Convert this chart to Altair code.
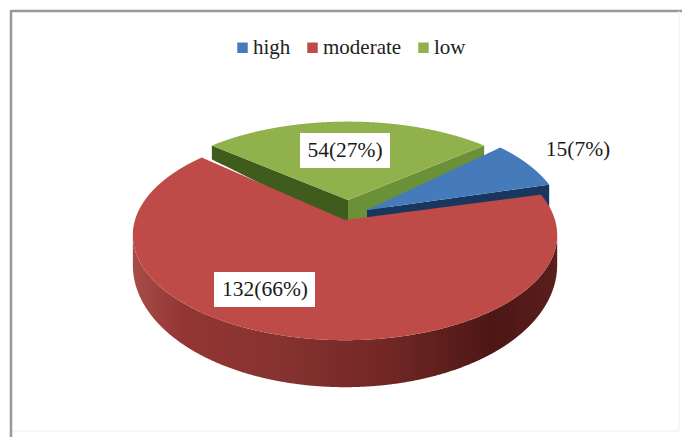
import numpy as np
import pandas as pd
import altair as alt

# Survey counts and the percentages printed beside them
names = ["high", "moderate", "low"]
counts = [15, 132, 54]
percents = [7, 66, 27]

face_colors = ["#457bbb", "#be4b48", "#90b14c"]

# Pie projection: radius on screen, perspective strength and wall depth
RX, RY, K = 210.0, 103.0, 0.143
DEPTH_MID, DEPTH_SLOPE = 27.0, 20.0
LOW_CENTRE = 0.0  # the low slice is centred on the back of the pie

# Per-slice apex and scale (exploded slices shift apart)
layout = {
    "high": dict(apex=(367, 210), fx=0.93, fy=1.0),
    "moderate": dict(apex=(345, 220), fx=1.0, fy=1.0),
    "low": dict(apex=(348, 200), fx=0.95, fy=0.87),
}

total = sum(counts)
sweep = {n: c / total * 2 * np.pi for n, c in zip(names, counts)}
start_low = LOW_CENTRE - sweep["low"] / 2
start_high = start_low + sweep["low"]
start_mod = start_high + sweep["high"]
angles = {
    "low": (start_low, start_low + sweep["low"]),
    "high": (start_high, start_high + sweep["high"]),
    "moderate": (start_mod, start_mod + sweep["moderate"]),
}


def project(name, theta):
    """Clockwise angle from the back of the pie to top-face screen units."""
    p = layout[name]
    u, v = np.sin(theta), -np.cos(theta)
    w = 1 - K * v
    return p["apex"][0] + p["fx"] * RX * u / w, p["apex"][1] + p["fy"] * RY * v / w, v


def depth(v):
    return DEPTH_MID + DEPTH_SLOPE * v


def scan(px, py, slice_name):
    """Turn a closed outline into x / y / y2 rows for an area mark."""
    px, py = np.asarray(px), np.asarray(py)
    xs = np.unique(np.concatenate([px, np.arange(np.floor(px.min()), np.ceil(px.max()) + 1)]))
    xs = xs[(xs >= px.min()) & (xs <= px.max())]
    rows = []
    qx, qy = np.roll(px, -1), np.roll(py, -1)
    for x in xs:
        hits = []
        for x0, y0, x1, y1 in zip(px, py, qx, qy):
            if min(x0, x1) <= x <= max(x0, x1):
                if x0 == x1:
                    hits += [y0, y1]
                else:
                    hits.append(y0 + (x - x0) / (x1 - x0) * (y1 - y0))
        if hits:
            rows.append(dict(x=x, y=min(hits), y2=max(hits), slice=slice_name))
    return pd.DataFrame(rows)


def sector(name):
    t = np.linspace(*angles[name], 400)
    x, y, _ = project(name, t)
    ax, ay = layout[name]["apex"]
    return scan(np.r_[ax, x], np.r_[ay, y], name)


def radial_wall(name, theta, extra=0.0):
    x, y, v = project(name, np.array(theta))
    ax, ay = layout[name]["apex"]
    return scan([ax, x, x, ax], [ay, y, y + depth(v) + extra, ay + DEPTH_MID], name)


def outer_wall(name):
    t = np.linspace(*angles[name], 1200)
    x, y, v = project(name, t)
    i, j = int(np.argmax(x)), int(np.argmin(x))
    x, y, v = x[i : j + 1], y[i : j + 1], v[i : j + 1]
    order = np.argsort(x)
    return pd.DataFrame(dict(x=x[order], y=y[order], y2=(y + depth(v))[order], slice=name))


X = alt.X("x:Q", axis=None, scale=alt.Scale(domain=[0, 682], nice=False, zero=False))
Y = alt.Y("y:Q", axis=None, scale=alt.Scale(domain=[437, 0], nice=False, zero=False))
Y2 = alt.Y2("y2:Q")

legend = alt.Legend(
    title=None, orient="none", legendX=232, legendY=37, direction="horizontal",
    symbolType="square", symbolSize=110, symbolStrokeWidth=0, symbolOpacity=1,
    labelFont="Liberation Serif", labelFontSize=21, labelColor="#222222",
    labelOffset=0, columnPadding=11, columns=3, padding=0,
)
color = alt.Color(
    "slice:N", scale=alt.Scale(domain=names, range=face_colors), legend=legend
)


def wall_layer(frame, fill):
    return alt.Chart(frame).mark_area(color=fill).encode(x=X, y=Y, y2=Y2)


def face_layer(name):
    return alt.Chart(sector(name)).mark_area().encode(x=X, y=Y, y2=Y2, color=color)


red_side = alt.LinearGradient(
    gradient="linear", x1=0, x2=1, y1=0, y2=0,
    stops=[
        alt.GradientStop(offset=0.0, color="#a84c49"),
        alt.GradientStop(offset=0.12, color="#933633"),
        alt.GradientStop(offset=0.35, color="#863230"),
        alt.GradientStop(offset=0.6, color="#722725"),
        alt.GradientStop(offset=0.85, color="#4c1715"),
        alt.GradientStop(offset=1.0, color="#5a1e1c"),
    ],
)

# Frame around the figure
frame_lines = pd.DataFrame(
    [
        dict(x=11, x2=11, y=10, y2=437, c="#999999", w=2.5),
        dict(x=11, x2=682, y=11, y2=11, c="#999999", w=2.5),
        dict(x=679, x2=679, y=11, y2=431, c="#eeeeee", w=1),
        dict(x=13, x2=679, y=431, y2=431, c="#eeeeee", w=1),
    ]
)
frame_layer = (
    alt.Chart(frame_lines)
    .mark_rule()
    .encode(
        x=X, x2="x2:Q", y=Y, y2=Y2,
        color=alt.Color("c:N", scale=None),
        strokeWidth=alt.StrokeWidth("w:Q", scale=None),
    )
)

# Value labels, two of them on white plates
label_text = [f"{c}({p}%)" for c, p in zip(counts, percents)]
labels = pd.DataFrame(dict(text=label_text, x=[578, 265, 345], y=[150, 290, 151]))
plates = pd.DataFrame(dict(x=[214, 300], x2=[315, 390], y=[272, 133], y2=[307, 168]))
plate_layer = (
    alt.Chart(plates).mark_rect(color="white").encode(x=X, x2="x2:Q", y=Y, y2=Y2)
)
text_layer = (
    alt.Chart(labels)
    .mark_text(font="Liberation Serif", fontSize=21.5, color="#1a1a1a", align="center", baseline="middle")
    .encode(x=X, y=Y, text="text:N")
)

low_a, low_b = angles["low"]
high_a, high_b = angles["high"]

chart = (
    alt.layer(
        frame_layer,
        wall_layer(radial_wall("low", low_a), "#3f5c1d"),
        wall_layer(radial_wall("low", low_b), "#6b9138"),
        face_layer("low"),
        wall_layer(radial_wall("high", high_b, extra=6), "#17375e"),
        face_layer("high"),
        wall_layer(outer_wall("moderate"), red_side),
        face_layer("moderate"),
        plate_layer,
        text_layer,
    )
    .properties(
        width=682, height=437, padding=0,
        autosize=alt.AutoSizeParams(type="none"),
        background="white",
    )
    .configure_view(stroke=None)
)

chart.save("out.html", embed_options={"renderer": "svg", "actions": False})
